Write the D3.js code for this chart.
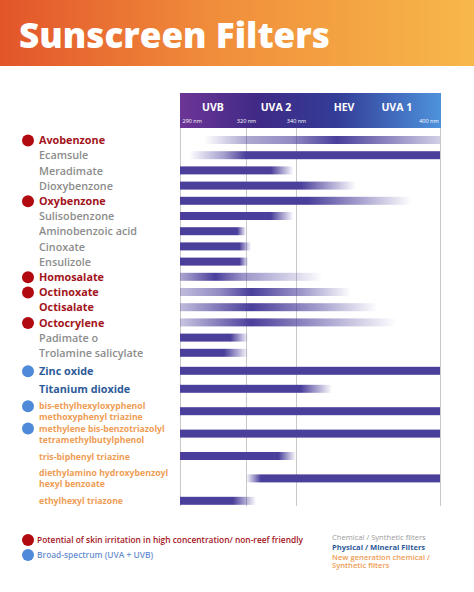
<!DOCTYPE html>
<html>
<head>
<meta charset="utf-8">
<script src="https://cdn.jsdelivr.net/npm/d3@7"></script>
<style>
  body { margin: 0; background: #fff; }
  svg { display: block; font-family: "Open Sans", sans-serif; }
</style>
</head>
<body>
<svg id="chart"></svg>
<script>
const WIDTH = 474;
const HEIGHT = 592;

// ---- data ----
const filters = [
  "Avobenzone", "Ecamsule", "Meradimate", "Dioxybenzone", "Oxybenzone",
  "Sulisobenzone", "Aminobenzoic acid", "Cinoxate", "Ensulizole", "Homosalate",
  "Octinoxate", "Octisalate", "Octocrylene", "Padimate o", "Trolamine salicylate",
  "Zinc oxide", "Titanium dioxide",
  "bis-ethylhexyloxyphenol|methoxyphenyl triazine",
  "methylene bis-benzotriazolyl|tetramethylbutylphenol",
  "tris-biphenyl triazine",
  "diethylamino hydroxybenzoyl|hexyl benzoate",
  "ethylhexyl triazone"
];
const filterTypes = [
  "chem", "chem", "chem", "chem", "chem", "chem", "chem", "chem", "chem", "chem",
  "chem", "chem", "chem", "chem", "chem",
  "mineral", "mineral",
  "newgen", "newgen", "newgen", "newgen", "newgen"
];
const irritant = ["Avobenzone", "Oxybenzone", "Homosalate", "Octinoxate", "Octocrylene"];
const redNames = ["Avobenzone", "Oxybenzone", "Homosalate", "Octinoxate", "Octisalate", "Octocrylene"];
const broadSpectrum = ["Zinc oxide", "bis-ethylhexyloxyphenol|methoxyphenyl triazine",
  "methylene bis-benzotriazolyl|tetramethylbutylphenol"];

// absorption profile: [wavelength nm, strength 0..1]
const absorption = [
  [[301, 0], [320, 0.45], [338, 0.6], [357, 1], [400, 0.25]],
  [[294, 0], [310, 0.5], [320, 1], [400, 1]],
  [[290, 1], [330, 1], [339, 0]],
  [[290, 1], [342, 1], [365, 0]],
  [[290, 1], [345, 1], [388, 0]],
  [[290, 1], [330, 1], [339, 0]],
  [[290, 1], [316, 1], [320, 0]],
  [[290, 1], [317, 1], [322, 0]],
  [[290, 1], [317, 1], [321, 0]],
  [[290, 0.45], [306, 1], [319, 0.55], [340, 0.2], [351, 0]],
  [[290, 0.35], [308, 0.6], [322, 1], [342, 0.55], [363, 0]],
  [[290, 0.35], [322, 1], [350, 0.5], [374, 0]],
  [[290, 0.3], [322, 1], [354, 0.45], [382, 0]],
  [[290, 1], [313, 1], [321, 0]],
  [[290, 1], [310, 1], [321, 0]],
  [[290, 1], [400, 1]],
  [[290, 1], [342, 1], [355, 0]],
  [[290, 1], [400, 1]],
  [[290, 1], [400, 1]],
  [[290, 1], [333, 1], [340, 0]],
  [[320, 0], [326, 1], [400, 1]],
  [[290, 1], [314, 1], [324, 0]]
];

const wavelengthTicks = [290, 320, 340, 400];
const regionNames = ["UVB", "UVA 2", "HEV", "UVA 1"];
const regionCenters = [305, 332, 360, 382];

const legendNotes = ["Potential of skin irritation in high concentration/ non-reef friendly",
  "Broad-spectrum (UVA + UVB)"];
const legendGroups = ["Chemical / Synthetic filters", "Physical / Mineral Filters",
  "New generation chemical /|Synthetic filters"];

// ---- styles ----
const BAR_COLOR = "#4a3f9b";
const RED = "#a3141c";
const DOT_RED = "#b10a10";
const DOT_BLUE = "#4f8ad8";
const TYPE_COLOR = { chem: "#8c8c8c", mineral: "#2e5b9a", newgen: "#ef9d55" };
const ROW_STEP = { chem: 15.2, mineral: 18, newgen: 22.4 };

const svg = d3.select("#chart").attr("width", WIDTH).attr("height", HEIGHT);
const defs = svg.append("defs");

// header
const hg = defs.append("linearGradient").attr("id", "hdr");
hg.append("stop").attr("offset", 0).attr("stop-color", "#e2552a");
hg.append("stop").attr("offset", 0.45).attr("stop-color", "#f08d3b");
hg.append("stop").attr("offset", 1).attr("stop-color", "#f7b84a");
svg.append("rect").attr("width", WIDTH).attr("height", 66).attr("fill", "url(#hdr)");

const title = svg.append("text")
  .attr("x", 19).attr("y", 48)
  .attr("fill", "#fff")
  .attr("font-weight", 800)
  .attr("font-size", 36)
  .text("Sunscreen Filters");
const tl = title.node().getComputedTextLength();
title.attr("font-size", 36 * 311 / tl);

// x scale is not linear in the original, so piecewise
const x = d3.scaleLinear().domain(wavelengthTicks).range([180, 246, 296, 440]);

// row positions
const rowY = [];
filters.forEach((f, i) => {
  rowY.push(i === 0 ? 140 : rowY[i - 1] + ROW_STEP[filterTypes[i]]);
});

// spectrum band
const bg = defs.append("linearGradient").attr("id", "band");
bg.append("stop").attr("offset", 0).attr("stop-color", "#6d3596");
bg.append("stop").attr("offset", 0.3).attr("stop-color", "#3f2a86");
bg.append("stop").attr("offset", 0.6).attr("stop-color", "#333c97");
bg.append("stop").attr("offset", 1).attr("stop-color", "#4e92dc");
svg.append("rect")
  .attr("x", x(290)).attr("y", 93)
  .attr("width", x(400) - x(290) + 1).attr("height", 35)
  .attr("fill", "url(#band)");

svg.selectAll(".region").data(regionNames).enter().append("text")
  .attr("class", "region")
  .attr("x", (d, i) => x(regionCenters[i]))
  .attr("y", 111)
  .attr("text-anchor", "middle")
  .attr("fill", "#fff")
  .attr("font-weight", 700)
  .attr("font-size", 10.5)
  .text(d => d);

// nm axis
const axis = svg.append("g")
  .attr("transform", "translate(0,118)")
  .call(d3.axisBottom(x).tickValues(wavelengthTicks).tickSize(0).tickFormat(d => d + " nm"));
axis.select(".domain").remove();
axis.selectAll("text")
  .attr("fill", "#fff")
  .attr("font-size", 5.5)
  .attr("font-family", "Open Sans, sans-serif")
  .attr("dy", "0.3em")
  .attr("text-anchor", d => d === 290 ? "start" : d === 400 ? "end" : "middle")
  .attr("dx", d => d === 290 ? 2 : d === 400 ? -2 : 0);

// gridlines
svg.selectAll(".grid").data(wavelengthTicks).enter().append("line")
  .attr("x1", d => x(d) + 0.5).attr("x2", d => x(d) + 0.5)
  .attr("y1", 128).attr("y2", 506)
  .attr("stroke", "#c9c9c9")
  .attr("stroke-width", 1);

// bars with absorption gradients
const BAR_H = 8;
absorption.forEach((stops, i) => {
  const x0 = x(stops[0][0]);
  const x1 = x(stops[stops.length - 1][0]);
  const g = defs.append("linearGradient")
    .attr("id", "bar" + i)
    .attr("gradientUnits", "userSpaceOnUse")
    .attr("x1", x0).attr("x2", x1).attr("y1", 0).attr("y2", 0);
  g.selectAll("stop").data(stops).enter().append("stop")
    .attr("offset", d => (x(d[0]) - x0) / (x1 - x0))
    .attr("stop-color", BAR_COLOR)
    .attr("stop-opacity", d => d[1]);
});

svg.selectAll(".bar").data(absorption).enter().append("rect")
  .attr("class", "bar")
  .attr("x", d => x(d[0][0]))
  .attr("y", (d, i) => rowY[i] - BAR_H / 2)
  .attr("width", d => x(d[d.length - 1][0]) - x(d[0][0]))
  .attr("height", BAR_H)
  .attr("fill", (d, i) => `url(#bar${i})`);

// labels
const labelColor = (name, i) => redNames.includes(name) ? RED : TYPE_COLOR[filterTypes[i]];
filters.forEach((name, i) => {
  const lines = name.split("|");
  const isNew = filterTypes[i] === "newgen";
  const fs = isNew ? 8.7 : 10.8;
  const firstY = lines.length > 1 ? rowY[i] - 5 : rowY[i] + 0.5;
  lines.forEach((ln, k) => {
    svg.append("text")
      .attr("x", 39)
      .attr("y", firstY + k * 11)
      .attr("dy", "0.35em")
      .attr("fill", labelColor(name, i))
      .attr("font-weight", redNames.includes(name) || filterTypes[i] !== "chem" ? 700 : 600)
      .attr("font-size", fs)
      .text(ln);
  });
  let dot = null;
  if (irritant.includes(name)) dot = DOT_RED;
  if (broadSpectrum.includes(name)) dot = DOT_BLUE;
  if (dot) {
    svg.append("circle").attr("cx", 28).attr("cy", firstY).attr("r", 6).attr("fill", dot);
  }
});

// legend (bottom left)
const noteColors = [RED, "#6a8fd0"];
const noteDots = [DOT_RED, DOT_BLUE];
legendNotes.forEach((n, i) => {
  const cy = 540 + i * 15;
  svg.append("circle").attr("cx", 28).attr("cy", cy).attr("r", 6).attr("fill", noteDots[i]);
  svg.append("text")
    .attr("x", 37).attr("y", cy).attr("dy", "0.35em")
    .attr("fill", noteColors[i])
    .attr("font-weight", 600)
    .attr("font-size", 8.4)
    .text(n);
});

// legend (bottom right)
const groupColors = ["#9a9a9a", "#2e5b9a", "#ef9d55"];
const groupWeights = [500, 700, 600];
let ly = 537;
legendGroups.forEach((g, i) => {
  g.split("|").forEach(ln => {
    svg.append("text")
      .attr("x", 332).attr("y", ly).attr("dy", "0.35em")
      .attr("fill", groupColors[i])
      .attr("font-weight", groupWeights[i])
      .attr("font-size", 7.6)
      .text(ln);
    ly += i === 2 ? 8.5 : 10;
  });
});
</script>
</body>
</html>
